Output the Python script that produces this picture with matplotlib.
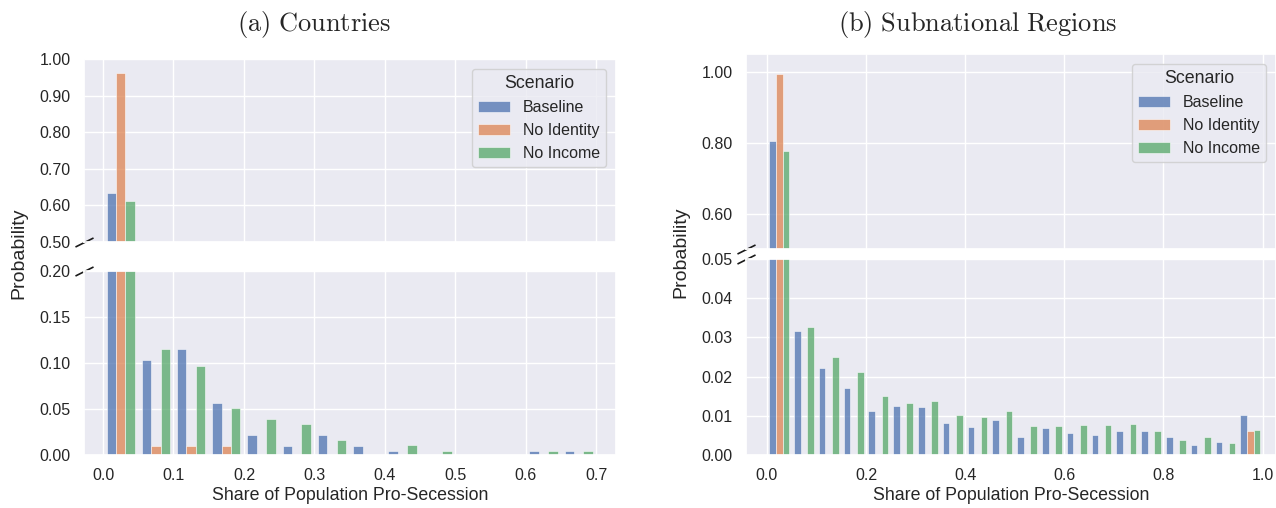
import matplotlib
matplotlib.use("Agg")
import matplotlib.pyplot as plt
import numpy as np
import seaborn as sns

# ---- data (probability per bin) ----
scenarios = ["Baseline", "No Identity", "No Income"]

country_bin_edges = [0.0, 0.05, 0.10, 0.15, 0.20, 0.25, 0.30, 0.35,
                     0.40, 0.45, 0.50, 0.55, 0.60, 0.65, 0.70]
country_baseline = [0.634, 0.103, 0.115, 0.0565, 0.0217, 0.0101, 0.0217,
                    0.0101, 0.0047, 0.0, 0.0, 0.0, 0.0047, 0.0047]
country_no_identity = [0.963, 0.0101, 0.0101, 0.0101, 0.0, 0.0, 0.0,
                       0.0, 0.0, 0.0, 0.0, 0.0, 0.0, 0.0]
country_no_income = [0.611, 0.115, 0.097, 0.0507, 0.039, 0.0337, 0.0163,
                     0.0, 0.0105, 0.0047, 0.0, 0.0, 0.0047, 0.0047]

region_bin_edges = [0.0, 0.05, 0.10, 0.15, 0.20, 0.25, 0.30, 0.35, 0.40,
                    0.45, 0.50, 0.55, 0.60, 0.65, 0.70, 0.75, 0.80, 0.85,
                    0.90, 0.95, 1.00]
region_baseline = [0.806, 0.0317, 0.0221, 0.0170, 0.0113, 0.0125, 0.0123,
                   0.0082, 0.0072, 0.0089, 0.0046, 0.0070, 0.0056, 0.0050,
                   0.0060, 0.0060, 0.0046, 0.0026, 0.0033, 0.0103]
region_no_identity = [0.994, 0.0, 0.0, 0.0, 0.0, 0.0, 0.0, 0.0, 0.0, 0.0,
                      0.0, 0.0, 0.0, 0.0, 0.0, 0.0, 0.0, 0.0, 0.0, 0.0060]
region_no_income = [0.777, 0.0327, 0.0251, 0.0213, 0.0150, 0.0133, 0.0139,
                    0.0102, 0.0096, 0.0113, 0.0073, 0.0073, 0.0077, 0.0077,
                    0.0080, 0.0060, 0.0039, 0.0046, 0.0030, 0.0063]

sns.set_theme(style="darkgrid")
plt.rcParams["font.family"] = ["Liberation Sans", "DejaVu Sans"]
plt.rcParams["mathtext.fontset"] = "cm"
colors = sns.color_palette("deep")[:3]

TICK = 11.5
LABEL = 12.8


def dodge_bars(ax, edges, series, shrink=0.8):
    edges = np.asarray(edges)
    left = edges[:-1]
    binw = np.diff(edges)
    w = binw * shrink / len(series)
    for i, (vals, name) in enumerate(zip(series, scenarios)):
        x = left + binw * (1 - shrink) / 2 + i * w
        ax.bar(x, vals, width=w, align="edge", color=colors[i], alpha=0.75,
               edgecolor="white", linewidth=0.5, label=name)


def broken_panel(fig, rect_top, rect_bot, edges, series, xlim, xticks,
                 ylim_top, yticks_top, ylim_bot, yticks_bot):
    ax_t = fig.add_axes(rect_top)
    ax_b = fig.add_axes(rect_bot, sharex=ax_t)
    for ax in (ax_t, ax_b):
        dodge_bars(ax, edges, series)
        ax.tick_params(labelsize=TICK)
    ax_t.set_xlim(*xlim)
    ax_b.set_xticks(xticks)
    ax_b.set_xticklabels(["{:.1f}".format(t) for t in xticks])
    ax_t.tick_params(labelbottom=False)
    ax_t.set_ylim(*ylim_top)
    ax_t.set_yticks(yticks_top)
    ax_t.set_yticklabels(["{:.2f}".format(t) for t in yticks_top])
    ax_b.set_ylim(*ylim_bot)
    ax_b.set_yticks(yticks_bot)
    ax_b.set_yticklabels(["{:.2f}".format(t) for t in yticks_bot])
    ax_b.set_xlabel("Share of Population Pro-Secession", fontsize=LABEL,
                    labelpad=3)
    # break marks on the left spine
    kw = dict(marker=[(-1, -0.5), (1, 0.5)], markersize=13, linestyle="none",
              color="k", mec="k", mew=1.2, clip_on=False)
    ax_t.plot([0], [0], transform=ax_t.transAxes, **kw)
    ax_b.plot([0], [1], transform=ax_b.transAxes, **kw)
    ax_t.legend(title="Scenario", fontsize=TICK, title_fontsize=LABEL,
                loc="upper right", borderaxespad=0.6)
    return ax_t, ax_b


W, H = 1276, 508
fig = plt.figure(figsize=(W / 100, H / 100), dpi=100)


def rect(x0, x1, ytop, ybot):
    return [x0 / W, 1 - ybot / H, (x1 - x0) / W, (ybot - ytop) / H]


broken_panel(fig, rect(84, 616, 59, 242), rect(84, 616, 271, 455),
             country_bin_edges,
             [country_baseline, country_no_identity, country_no_income],
             (-0.027, 0.728), [0.0, 0.1, 0.2, 0.3, 0.4, 0.5, 0.6, 0.7],
             (0.5, 1.0), [0.5, 0.6, 0.7, 0.8, 0.9, 1.0],
             (0.0, 0.2), [0.0, 0.05, 0.10, 0.15, 0.20])

broken_panel(fig, rect(746, 1276, 54, 249), rect(746, 1276, 259, 455),
             region_bin_edges,
             [region_baseline, region_no_identity, region_no_income],
             (-0.042, 1.027), [0.0, 0.2, 0.4, 0.6, 0.8, 1.0],
             (0.5, 1.05), [0.6, 0.8, 1.0],
             (0.0, 0.05), [0.0, 0.01, 0.02, 0.03, 0.04, 0.05])

fig.text(19 / W, 1 - 253 / H, "Probability", rotation=90, fontsize=14,
         ha="center", va="center")
fig.text(681 / W, 1 - 252 / H, "Probability", rotation=90, fontsize=14,
         ha="center", va="center")

fig.text(314 / W, 1 - 25 / H, r"$\mathrm{(a)\ Countries}$", fontsize=19,
         ha="center", va="center")
fig.text(978 / W, 1 - 25 / H, r"$\mathrm{(b)\ Subnational\ Regions}$",
         fontsize=19, ha="center", va="center")

fig.savefig("out.png", dpi=100)
